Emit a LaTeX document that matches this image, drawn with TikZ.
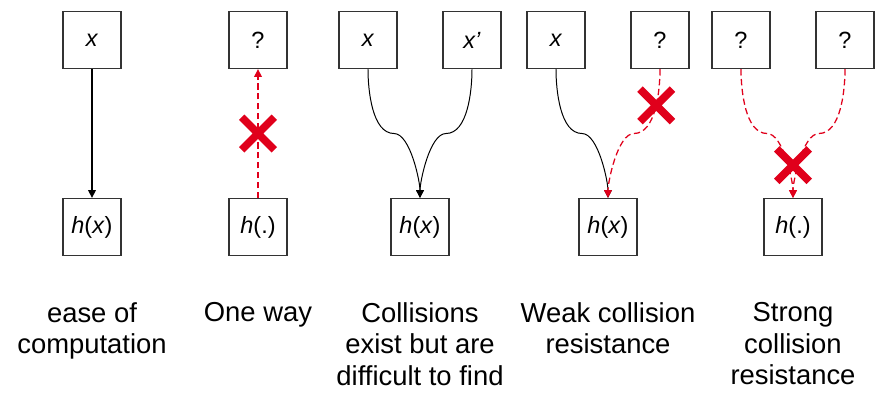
\documentclass[tikz,border=0pt]{standalone}
\usepackage{fontspec}
\setmainfont{Liberation Sans}
\usetikzlibrary{arrows.meta,shapes.misc,positioning,calc}
\definecolor{xred}{RGB}{224,0,27}

\begin{document}
\begin{tikzpicture}
    \tikzstyle{every node} = [font=\fontsize{16.7pt}{20pt}\selectfont]
    \tikzstyle{box} = [draw=black!80, line width=0.8pt, rectangle, minimum width=1.45cm, minimum height=1.43cm]
    \tikzstyle{caption} = [font=\fontsize{19.5pt}{22.4pt}\selectfont, align=center, inner sep=0pt]
    \tikzstyle{nogo} = [draw=xred, cross out, line width=5.5pt, minimum size=0.62cm, inner sep=0pt]
    \tikzstyle{link} = [-{Triangle[length=5.5pt,width=5.5pt]}, line width=0.7pt]
    \tikzstyle{fake} = [link, xred, dash pattern=on 4.5pt off 2.5pt, line width=0.9pt]
    \useasboundingbox (0,0) rectangle (22.075,-9.8);
    % inputs
    \node[box] (x1) at (2.3,-1.0) {\textit{x}};
    \node[box,right of=x1,node distance=4.15cm] (q2) {?};
    \node[box,right of=q2,node distance=2.75cm] (x3) {\textit{x}};
    \node[box,right of=x3,node distance=2.6cm] (y3) {\textit{x’}};
    \node[box,right of=y3,node distance=2.1cm] (x4) {\textit{x}};
    \node[box,right of=x4,node distance=2.6cm] (q4) {?};
    \node[box,right of=q4,node distance=2.025cm] (q5) {?};
    \node[box,right of=q5,node distance=2.6cm] (r5) {?};
    % hash values
    \node[box,below of=x1,node distance=4.675cm] (h1) {\textit{h}(\textit{x})};
    \node[box,right of=h1,node distance=4.15cm] (h2) {\textit{h}(.)};
    \node[box,right of=h2,node distance=4.05cm] (h3) {\textit{h}(\textit{x})};
    \node[box,right of=h3,node distance=4.7cm] (h4) {\textit{h}(\textit{x})};
    \node[box,right of=h4,node distance=4.625cm] (h5) {\textit{h}(.)};
    % captions
    \node[caption,below=1.15cm of h1] (c1) {ease of\\computation};
    \node[caption,below=1.15cm of h2] (c2) {One way};
    \node[caption,below=1.15cm of h3] (c3) {Collisions\\exist but are\\difficult to find};
    \node[caption,below=1.15cm of h4] (c4) {Weak collision\\resistance};
    \node[caption,below=1.15cm of h5] (c5) {Strong\\collision\\resistance};
    % bends of the curved links
    \coordinate (m3a) at ($(x3.south)!0.5!(h3.north)$);
    \coordinate (m3b) at ($(y3.south)!0.5!(h3.north)$);
    \coordinate (m4a) at ($(x4.south)!0.5!(h4.north)$);
    \coordinate (m4b) at ($(q4.south)!0.5!(h4.north)$);
    \coordinate (m5a) at ($(q5.south)!0.5!(h5.north)$);
    \coordinate (m5b) at ($(r5.south)!0.5!(h5.north)$);

    % Connections
    \draw[link,line width=1pt] (x1) -- (h1);
    \draw[fake] (h2) -- coordinate[midway] (k2) (q2);
    \draw[link]
    (x3.south) to[out=-90,in=180,looseness=0.8] (m3a) to[out=0,in=90,looseness=0.6] (h3.north);
    \draw[link]
    (y3.south) to[out=-90,in=0,looseness=0.8] (m3b) to[out=180,in=90,looseness=0.6] (h3.north);
    \draw[link]
    (x4.south) to[out=-90,in=180,looseness=0.8] (m4a) to[out=0,in=90,looseness=0.6] (h4.north);
    \draw[fake]
    (q4.south) to[out=-90,in=0,looseness=0.8] coordinate[pos=0.45] (k4) (m4b) to[out=180,in=90,looseness=0.6] (h4.north);
    \draw[fake]
    (q5.south) to[out=-90,in=180,looseness=0.8] (m5a) to[out=0,in=90,looseness=0.6] (h5.north);
    \draw[fake]
    (r5.south) to[out=-90,in=0,looseness=0.8] (m5b) to[out=180,in=90,looseness=0.6] (h5.north);
    % blocked ways
    \node[nogo] at (k2) {};
    \node[nogo] at (k4) {};
    \node[nogo] at ([yshift=0.82cm]h5.north) {};

  \end{tikzpicture}
\end{document}
